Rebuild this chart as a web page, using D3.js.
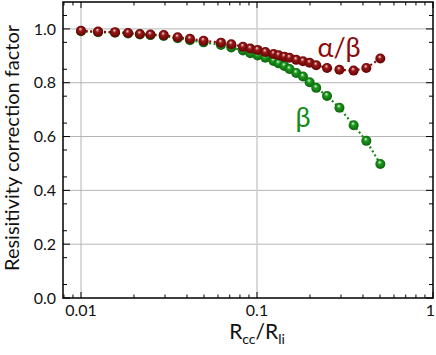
<!DOCTYPE html>
<html><head><meta charset="utf-8">
<script src="https://cdn.jsdelivr.net/npm/d3@7"></script>
<style>body{margin:0;background:#fff}svg{display:block}</style>
</head><body>
<svg id="c" width="436" height="355"></svg>
<script>
const ratio = [0.01,0.0125,0.0156,0.0185,0.0216,0.0248,0.0295,0.0354,0.0416,0.0497,0.0624,0.0714,0.0832,0.0916,0.1007,0.1115,0.1243,0.1327,0.143,0.153,0.167,0.1825,0.199,0.217,0.25,0.294,0.354,0.418,0.502];
const alphaBeta = [0.993,0.990,0.988,0.985,0.981,0.979,0.977,0.969,0.963,0.956,0.949,0.943,0.934,0.927,0.922,0.914,0.907,0.902,0.897,0.893,0.885,0.880,0.874,0.865,0.855,0.848,0.845,0.855,0.890];
const beta = [0.991,0.988,0.986,0.983,0.979,0.977,0.974,0.965,0.958,0.950,0.940,0.931,0.920,0.910,0.901,0.893,0.881,0.872,0.862,0.851,0.836,0.823,0.802,0.781,0.751,0.707,0.642,0.584,0.498];
const yTicks = [0.0,0.2,0.4,0.6,0.8,1.0];
const xTicks = [0.01,0.1,1];
const xTickLabels = ["0.01","0.1","1"];

const svg = d3.select("#c");
const L=63, R=433, T=2, B=298;
const x = d3.scaleLog().domain([0.0079,1]).range([L,R]);
const y = d3.scaleLinear().domain([0,1.1]).range([B,T]);
const font = "Lato, 'Open Sans', sans-serif";

const defs = svg.append("defs");
function grad(id, hi, mid, dark){
  const g = defs.append("radialGradient").attr("id",id).attr("cx","0.5").attr("cy","0.5").attr("r","0.55").attr("fx","0.42").attr("fy","0.3");
  g.append("stop").attr("offset","0").attr("stop-color",hi);
  g.append("stop").attr("offset","0.35").attr("stop-color",mid);
  g.append("stop").attr("offset","1").attr("stop-color",dark);
}
grad("gr","#f4dede","#981818","#5e0000");
grad("gg","#e4f6e4","#1c9a1c","#0a5c0a");

// grid
const gridY = yTicks.filter(v=>v>0);
svg.append("g").selectAll("line").data(gridY).join("line")
  .attr("x1",L).attr("x2",R).attr("y1",d=>y(d)).attr("y2",d=>y(d))
  .attr("stroke","#b4b4b4").attr("stroke-width",1);
svg.append("g").selectAll("line").data(xTicks.slice(0,2)).join("line")
  .attr("y1",T).attr("y2",B).attr("x1",d=>x(d)).attr("x2",d=>x(d))
  .attr("stroke",(d,i)=>i===1?"#cfcfcf":"#b4b4b4").attr("stroke-width",(d,i)=>i===1?1.6:1);

// ticks
const minorX = [];
[0.001,0.01,0.1].forEach(b=>{for(let k=2;k<=9;k++){const v=b*k; if(v>=0.0079&&v<1) minorX.push(v);}});
const minorY = d3.range(0.05,1.1,0.1).map(v=>+v.toFixed(2));
const tk = svg.append("g").attr("stroke","#000").attr("stroke-width",1);
xTicks.forEach(v=>{
  tk.append("line").attr("x1",x(v)).attr("x2",x(v)).attr("y1",B).attr("y2",B-6);
  tk.append("line").attr("x1",x(v)).attr("x2",x(v)).attr("y1",T).attr("y2",T+6);
});
minorX.forEach(v=>{
  tk.append("line").attr("x1",x(v)).attr("x2",x(v)).attr("y1",B).attr("y2",B-3.5);
  tk.append("line").attr("x1",x(v)).attr("x2",x(v)).attr("y1",T).attr("y2",T+3.5);
});
yTicks.forEach(v=>{
  tk.append("line").attr("x1",L).attr("x2",L+7).attr("y1",y(v)).attr("y2",y(v));
  tk.append("line").attr("x1",R).attr("x2",R-7).attr("y1",y(v)).attr("y2",y(v));
});
minorY.forEach(v=>{
  tk.append("line").attr("x1",L).attr("x2",L+4).attr("y1",y(v)).attr("y2",y(v));
  tk.append("line").attr("x1",R).attr("x2",R-4).attr("y1",y(v)).attr("y2",y(v));
});

// frame
svg.append("rect").attr("x",L).attr("y",T).attr("width",R-L).attr("height",B-T)
  .attr("fill","none").attr("stroke","#000").attr("stroke-width",1.5);

// tick labels
svg.append("g").selectAll("text").data(yTicks).join("text")
  .attr("x",56).attr("y",d=>y(d)).attr("dy","0.36em").attr("text-anchor","end")
  .attr("font-family",font).attr("font-size",16).attr("fill","#111")
  .text(d=>d.toFixed(1));
svg.append("g").selectAll("text").data(xTicks).join("text")
  .attr("x",(d,i)=>i===2?435:x(d)).attr("y",316).attr("text-anchor",(d,i)=>i===2?"end":"middle")
  .attr("font-family",font).attr("font-size",16).attr("fill","#111")
  .text((d,i)=>xTickLabels[i]);

// axis titles
svg.append("text").attr("transform","translate(19,148) rotate(-90)").attr("text-anchor","middle")
  .attr("font-family",font).attr("font-size",20).attr("fill","#111").text("Resisitivity correction factor");
const xt = svg.append("text").attr("x",257).attr("y",339).attr("text-anchor","middle")
  .attr("font-family",font).attr("font-size",21).attr("fill","#111");
xt.append("tspan").text("R");
xt.append("tspan").attr("font-size",14).attr("dy",5).text("cc");
xt.append("tspan").attr("dy",-5).text("/R");
xt.append("tspan").attr("font-size",14).attr("dy",5).text("li");

// series
const series = [
  {vals:beta, color:"#138c13", g:"url(#gg)"},
  {vals:alphaBeta, color:"#8a0c0c", g:"url(#gr)"}
];
const line = d3.line().x(d=>x(d[0])).y(d=>y(d[1]));
series.forEach(s=>{
  const pts = ratio.map((r,i)=>[r,s.vals[i]]);
  svg.append("path").datum(pts).attr("d",line).attr("fill","none")
    .attr("stroke",s.color).attr("stroke-width",2.2).attr("stroke-dasharray","2,2.6");
});
series.forEach(s=>{
  const pts = ratio.map((r,i)=>[r,s.vals[i]]);
  svg.append("g").selectAll("circle").data(pts).join("circle")
    .attr("cx",d=>x(d[0])).attr("cy",d=>y(d[1])).attr("r",5).attr("fill",s.g);
});

// labels
svg.append("text").attr("x",339).attr("y",57).attr("text-anchor","middle")
  .attr("font-family",font).attr("font-size",27).attr("fill","#8a0c0c").text("α/β");
svg.append("text").attr("x",303).attr("y",127).attr("text-anchor","middle")
  .attr("font-family",font).attr("font-size",27).attr("fill","#138c13").text("β");
</script>
</body></html>
